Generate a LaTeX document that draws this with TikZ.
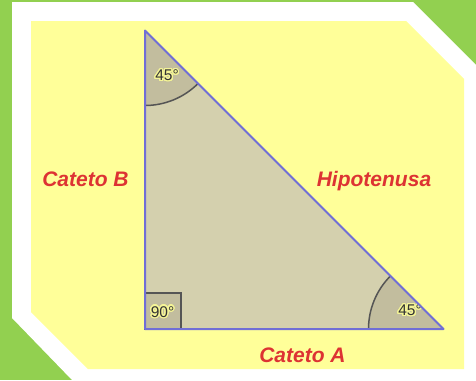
\documentclass[tikz,border=0pt]{standalone}
\usepackage{fontspec}
\setmainfont{Liberation Sans}
\usepackage{contour}
\contourlength{1.3pt}
\contournumber{24}
\definecolor{bggreen}{RGB}{146,208,80}
\definecolor{bgyellow}{RGB}{255,255,153}
\definecolor{trifill}{RGB}{212,208,174}
\definecolor{secfill}{RGB}{194,189,158}
\definecolor{edgeblue}{RGB}{112,110,214}
\definecolor{arcgray}{RGB}{85,85,85}
\definecolor{labred}{RGB}{221,51,51}
\definecolor{glow}{RGB}{245,245,150}
\definecolor{txtgray}{RGB}{51,51,51}
\begin{document}
\begin{tikzpicture}[x=1pt,y=-1pt,
  sidelabel/.style={text=labred,font=\fontsize{21}{25}\selectfont\bfseries\itshape,inner sep=0pt,anchor=base},
  anglabel/.style={text=txtgray,font=\fontsize{15.5}{18}\selectfont,inner sep=0pt},
  edge/.style={draw=edgeblue,line width=2pt,line join=round}]
\useasboundingbox (0,0) rectangle (476,380);
\fill[bggreen] (0,0) rectangle (476,380);
\fill[white] (12,2) -- (413,2) -- (476,65) -- (476,380) -- (72,380) -- (12,318) -- cycle;
\fill[bgyellow] (31,21) -- (406,21) -- (464,79) -- (464,369) -- (88,369) -- (31,312) -- cycle;
\coordinate (A) at (145,30.5);
\coordinate (C) at (145,329);
\coordinate (B) at (443.5,329);
\fill[trifill] (A) -- (C) -- (B) -- cycle;
\fill[secfill] (A) -- ++(90:75) arc[start angle=90,end angle=45,radius=75] -- cycle;
\draw[arcgray,line width=1.5pt] (A) ++(90:75) arc[start angle=90,end angle=45,radius=75];
\fill[secfill] (B) -- ++(180:75) arc[start angle=180,end angle=225,radius=75] -- cycle;
\draw[arcgray,line width=1.5pt] (B) ++(180:75) arc[start angle=180,end angle=225,radius=75];
\draw[arcgray,fill=secfill,line width=1.3pt] (145,293) rectangle (181,329);
\node[anglabel] (a1) at (167,76) {\contour{glow}{45°}};
\node[anglabel] (a2) at (410,311) {\contour{glow}{45°}};
\node[anglabel] (a3) at (162.5,312.5) {\contour{glow}{90°}};
\draw[edge] (A) -- (C) -- (B) -- cycle;
\node[sidelabel] (cb) at (85.5,186.5) {Cateto B};
\node[sidelabel] (hy) at (374,186.5) {Hipotenusa};
\node[sidelabel] (ca) at (302.5,362) {Cateto A};
\end{tikzpicture}
\end{document}
